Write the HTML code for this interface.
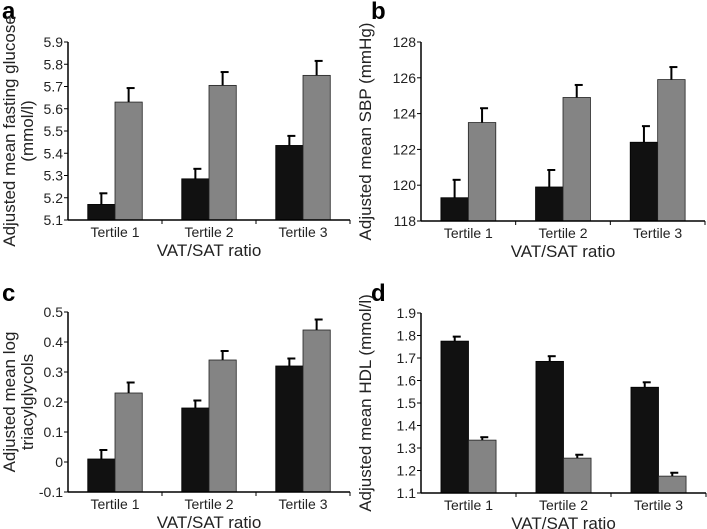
<!DOCTYPE html>
<html><head><meta charset="utf-8"><style>
html,body{margin:0;padding:0;background:#fff}
svg{display:block;font-family:"Liberation Sans",sans-serif}
</style></head><body>
<svg id="chart" width="707" height="529" viewBox="0 0 707 529"></svg>
<script>
const categories = ["Tertile 1","Tertile 2","Tertile 3"];
const aBlack = [5.17, 5.285, 5.435];
const aBlackErr = [5.22, 5.33, 5.478];
const aGray = [5.63, 5.705, 5.75];
const aGrayErr = [5.693, 5.765, 5.815];
const aTicks = ["5.1","5.2","5.3","5.4","5.5","5.6","5.7","5.8","5.9"];
const bBlack = [119.3, 119.9, 122.4];
const bBlackErr = [120.3, 120.85, 123.3];
const bGray = [123.5, 124.9, 125.9];
const bGrayErr = [124.3, 125.6, 126.6];
const bTicks = ["118","120","122","124","126","128"];
const cBlack = [0.01, 0.18, 0.32];
const cBlackErr = [0.04, 0.205, 0.345];
const cGray = [0.23, 0.34, 0.44];
const cGrayErr = [0.265, 0.37, 0.475];
const cTicks = ["-0.1","0","0.1","0.2","0.3","0.4","0.5"];
const dBlack = [1.775, 1.685, 1.57];
const dBlackErr = [1.795, 1.708, 1.592];
const dGray = [1.335, 1.255, 1.175];
const dGrayErr = [1.348, 1.27, 1.19];
const dTicks = ["1.1","1.2","1.3","1.4","1.5","1.6","1.7","1.8","1.9"];

const NS="http://www.w3.org/2000/svg";
const svg=document.getElementById('chart');
function mk(tag,attrs,parent,text){const e=document.createElementNS(NS,tag);for(const k in attrs)e.setAttribute(k,attrs[k]);if(text!==undefined)e.textContent=text;(parent||svg).appendChild(e);return e;}

function panel(letter,lx,ly,x0,x1,yTop,yBot,ticks,black,blackErr,gray,grayErr,ylabel,ylx){
  const g=mk('g',{});
  
  
  const tv=ticks.map(Number);const mn=tv[0],mx=tv[tv.length-1];
  const y=v=>yBot-(v-mn)/(mx-mn)*(yBot-yTop);
  const gw=(x1-x0)/categories.length;
  const L=mk('text',{x:lx,y:ly,'font-size':24,'font-weight':'bold'},g,letter);
  
  
  ticks.forEach((t,i)=>{const yy=y(tv[i]);
    mk('line',{x1:x0-4,x2:x0,y1:yy,y2:yy,stroke:'#000'},g);
    const tt=mk('text',{x:x0-5,y:yy+5,'font-size':14,'text-anchor':'end',fill:'#222'},g,t);
    
    
  });
  categories.forEach((c,i)=>{
    const gx=x0+gw*i;
    const bw=gw*0.29;const bx=gx+gw*0.21;
    const r1=mk('rect',{x:bx,y:y(black[i]),width:bw,height:yBot-y(black[i]),fill:'#111',stroke:'#000','stroke-width':0.8},g);
    
    
    const r2=mk('rect',{x:bx+bw,y:y(gray[i]),width:bw,height:yBot-y(gray[i]),fill:'#848484',stroke:'#222','stroke-width':0.8},g);
    
    
    [[bx+bw/2,black[i],blackErr[i]],[bx+bw*1.5,gray[i],grayErr[i]]].forEach(([cx,v,e])=>{
      mk('line',{x1:cx,x2:cx,y1:y(v),y2:y(e),stroke:'#000','stroke-width':2},g);
      mk('line',{x1:cx-2,x2:cx+6,y1:y(e),y2:y(e),stroke:'#000','stroke-width':2},g);
    });
    mk('line',{x1:gx+gw,x2:gx+gw,y1:yBot,y2:yBot+4,stroke:'#000'},g);
    const ct=mk('text',{x:gx+gw/2,y:yBot+17,'font-size':14,'text-anchor':'middle',fill:'#222'},g,c);
    
    
  });
  mk('line',{x1:x0,x2:x0,y1:yTop,y2:yBot,stroke:'#000','stroke-width':1.5},g);
  mk('line',{x1:x0,x2:x1,y1:yBot,y2:yBot,stroke:'#000','stroke-width':1.5},g);
  const xt=mk('text',{x:(x0+x1)/2,y:yBot+36,'font-size':17,'text-anchor':'middle',fill:'#222'},g,'VAT/SAT ratio');
  
  
  const cy=(yTop+yBot)/2;
  const yt=mk('text',{transform:`translate(0,${cy}) rotate(-90)`,'font-size':17,'text-anchor':'middle',fill:'#222'},g);
  
  
  ylabel.forEach((ln,i)=>{mk('tspan',{x:0,y:ylx+i*18},yt,ln);});
}
panel('a',2,19,68,350,42,220,aTicks,aBlack,aBlackErr,aGray,aGrayErr,['Adjusted mean fasting glucose','(mmol/l)'],15);
panel('b',371,19,421,705,42,221,bTicks,bBlack,bBlackErr,bGray,bGrayErr,['Adjusted mean SBP (mmHg)'],371);
panel('c',2,301,68,350,312,492,cTicks,cBlack,cBlackErr,cGray,cGrayErr,['Adjusted mean log','triacylglycols'],15);
panel('d',371,301,421,706,313,493,dTicks,dBlack,dBlackErr,dGray,dGrayErr,['Adjusted mean HDL (mmol/l)'],371);
</script>
</body></html>
